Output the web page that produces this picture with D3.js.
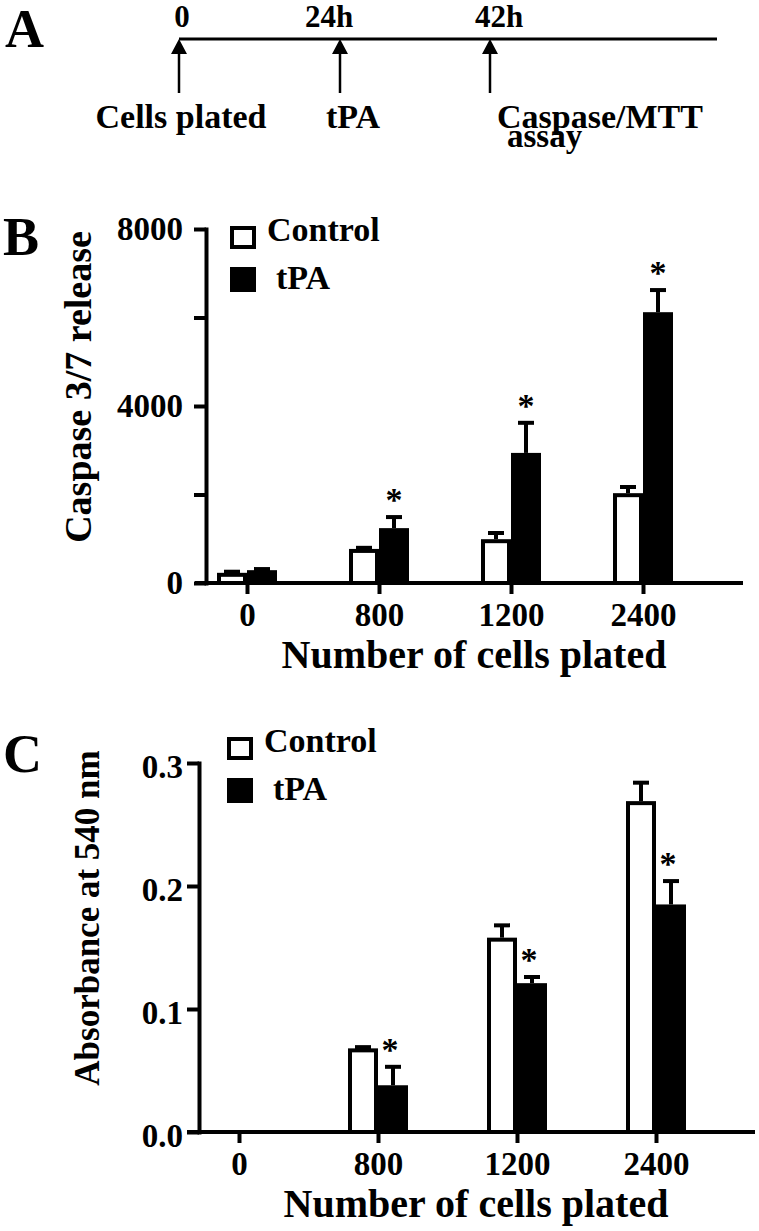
<!DOCTYPE html>
<html>
<head>
<meta charset="utf-8">
<script src="https://cdn.jsdelivr.net/npm/d3@7"></script>
<style>
  body { margin: 0; background: #fff; }
  svg { display: block; background: #fff; }
  text { font-family: "Liberation Serif", "Times New Roman", serif; font-weight: bold; fill: #000; }
</style>
</head>
<body>
<svg></svg>
<script>
// ---------- data ----------
const timelineEvents = ['0', '24h', '42h'];
const timelineLabels = ['Cells plated', 'tPA', 'Caspase/MTT'];

const cellGroups = ['0', '800', '1200', '2400'];
const seriesNames = ['Control', 'tPA'];

// panel B: caspase 3/7 release
const caspaseTicks = [0, 2000, 4000, 6000, 8000];
const caspaseControl = [230, 770, 990, 2030];
const caspaseControlErr = [25, 25, 140, 140];
const caspaseTpa = [290, 1240, 2940, 6120];
const caspaseTpaErr = [25, 250, 680, 500];
const caspaseSig = [false, true, true, true];

// panel C: absorbance at 540 nm (MTT)
const absTicks = [0, 0.1, 0.2, 0.3];
const absControl = [0, 0.068, 0.158, 0.269];
const absControlErr = [0, 0.001, 0.010, 0.015];
const absTpa = [0, 0.038, 0.121, 0.185];
const absTpaErr = [0, 0.015, 0.005, 0.019];
const absSig = [false, true, true, true];

const size = {w: 759, h: 1231};
const svg = d3.select('svg')
    .attr('width', size.w)
    .attr('height', size.h);

// ---------- A: timeline ----------
const gA = svg.append('g').classed('panel-a', true);
const tx = d3.scaleOrdinal().domain(timelineEvents).range([179, 340, 490]);
const lineY = 39;

gA.append('text').attr('x', 5).attr('y', 47).style('font-size', '54px').text('A');

gA.append('line')
    .attr('x1', tx('0')).attr('x2', 717)
    .attr('y1', lineY).attr('y2', lineY)
    .attr('stroke', '#000').attr('stroke-width', 3);

const arrows = gA.selectAll('g.arrow')
    .data(timelineEvents)
    .join('g').classed('arrow', true)
    .attr('transform', d => `translate(${tx(d)},0)`);

arrows.append('line')
    .attr('x1', 0).attr('x2', 0)
    .attr('y1', lineY + 12).attr('y2', 93)
    .attr('stroke', '#000').attr('stroke-width', 2.5);

arrows.append('path')
    .attr('d', `M0,${lineY} L-8,${lineY + 15} L8,${lineY + 15} Z`)
    .attr('fill', '#000');

// hour labels sit a little off the arrows
const topDx = [3, -11, 9];
arrows.append('text')
    .attr('x', (d, i) => topDx[i])
    .attr('y', 27)
    .attr('text-anchor', 'middle')
    .style('font-size', '31px')
    .text(d => d);

const botAnchor = ['middle', 'start', 'start'];
const botDx = [2, -14, 7];
arrows.append('text')
    .attr('x', (d, i) => botDx[i])
    .attr('y', 128)
    .attr('text-anchor', (d, i) => botAnchor[i])
    .style('font-size', '34px')
    .text((d, i) => timelineLabels[i]);

gA.append('text')
    .attr('x', 507).attr('y', 147)
    .style('font-size', '33px')
    .text('assay');

// ---------- bar panels ----------
function drawPanel(p) {
    const g = svg.append('g');

    const y = d3.scaleLinear().domain([0, p.yMax]).range([p.bottom, p.top]);
    const x = d3.scalePoint().domain(cellGroups).range(p.xRange);
    const bw = 30, sw = 4;

    g.append('text')
        .attr('x', 3).attr('y', p.letterY)
        .style('font-size', '54px')
        .text(p.letter);

    // y axis
    const yAxis = d3.axisLeft(y)
        .tickValues(p.ticks)
        .tickSize(12)
        .tickSizeOuter(0)
        .tickPadding(p.tickPad)
        .tickFormat(d => p.labelTicks.includes(d) ? p.fmt(d) : '');

    const yg = g.append('g')
        .attr('transform', `translate(${p.yAxisX},0)`)
        .call(yAxis);
    yg.selectAll('path.domain').attr('stroke-width', sw).attr('stroke-linecap', 'square');
    yg.selectAll('.tick line').attr('stroke-width', sw);
    yg.selectAll('.tick text')
        .attr('dy', p.labelDy)
        .style('font-size', '33px')
        .style('font-family', null);

    g.append('text')
        .attr('transform', `translate(${p.ylabelX},${p.ylabelY}) rotate(-90)`)
        .attr('text-anchor', 'middle')
        .style('font-size', p.ylabelSize + 'px')
        .text(p.ylabel);

    // bars
    const bars = g.selectAll('g.group')
        .data(cellGroups)
        .join('g').classed('group', true);

    bars.filter((d, i) => p.control[i] > 0)
        .append('rect')
        .attr('x', d => x(d) - bw + sw / 2)
        .attr('y', (d) => y(p.control[cellGroups.indexOf(d)]) + sw / 2)
        .attr('width', bw - sw)
        .attr('height', d => p.bottom - y(p.control[cellGroups.indexOf(d)]) - sw / 2)
        .attr('fill', '#fff')
        .attr('stroke', '#000')
        .attr('stroke-width', sw);

    bars.filter((d, i) => p.tpa[i] > 0)
        .append('rect')
        .attr('x', d => x(d))
        .attr('y', d => y(p.tpa[cellGroups.indexOf(d)]))
        .attr('width', bw)
        .attr('height', d => p.bottom - y(p.tpa[cellGroups.indexOf(d)]))
        .attr('fill', '#000');

    // error bars, upper half only
    function errorBar(cx, v, e) {
        if (v <= 0 || e <= 0) return;
        g.append('line')
            .attr('x1', cx).attr('x2', cx)
            .attr('y1', y(v)).attr('y2', y(v + e))
            .attr('stroke', '#000').attr('stroke-width', sw);
        g.append('line')
            .attr('x1', cx - 8).attr('x2', cx + 8)
            .attr('y1', y(v + e)).attr('y2', y(v + e))
            .attr('stroke', '#000').attr('stroke-width', sw);
    }
    cellGroups.forEach((d, i) => {
        errorBar(x(d) - bw / 2, p.control[i], p.controlErr[i]);
        errorBar(x(d) + bw / 2, p.tpa[i], p.tpaErr[i]);
    });

    // significance stars
    g.selectAll('text.star')
        .data(cellGroups.filter((d, i) => p.sig[i]))
        .join('text').classed('star', true)
        .attr('x', d => x(d) + bw / 2 + p.starDx)
        .attr('y', d => {
            const i = cellGroups.indexOf(d);
            return y(p.tpa[i] + p.tpaErr[i]) - 22 + 16;
        })
        .attr('text-anchor', 'middle')
        .style('font-size', '34px')
        .text('*');

    // x axis: long baseline plus ticks at the groups
    g.append('line')
        .attr('x1', p.xStart).attr('x2', p.xEnd)
        .attr('y1', p.bottom).attr('y2', p.bottom)
        .attr('stroke', '#000').attr('stroke-width', sw);

    const xg = g.append('g')
        .attr('transform', `translate(0,${p.bottom})`)
        .call(d3.axisBottom(x).tickSize(11).tickSizeOuter(0));
    xg.select('path.domain').remove();
    xg.selectAll('.tick line').attr('stroke-width', sw);
    xg.selectAll('.tick text')
        .attr('y', 43).attr('dy', 0)
        .style('font-size', '33px')
        .style('font-family', null);

    g.append('text')
        .attr('x', p.xlabelX).attr('y', p.bottom + 85)
        .attr('text-anchor', 'middle')
        .style('font-size', '40px')
        .text('Number of cells plated');

    // legend
    const leg = g.selectAll('g.legend')
        .data(seriesNames)
        .join('g').classed('legend', true);
    leg.append('rect')
        .attr('x', (d, i) => p.legendX + (i === 0 ? sw / 2 : 0))
        .attr('y', (d, i) => p.legendY + i * 41 + (i === 0 ? sw / 2 : 0))
        .attr('width', (d, i) => i === 0 ? 26 - sw : 26)
        .attr('height', (d, i) => i === 0 ? 23 - sw : 25)
        .attr('fill', (d, i) => i === 0 ? '#fff' : '#000')
        .attr('stroke', (d, i) => i === 0 ? '#000' : 'none')
        .attr('stroke-width', sw);
    leg.append('text')
        .attr('x', (d, i) => p.legendX + 37 + (i === 0 ? 0 : 9))
        .attr('y', (d, i) => p.legendY + 15 + i * 48)
        .style('font-size', '34px')
        .text(d => d);
}

drawPanel({
    letter: 'B', letterY: 255,
    top: 229, bottom: 583, yMax: 8000,
    yAxisX: 206, xStart: 195, xEnd: 743, xRange: [247, 643],
    ticks: caspaseTicks, labelTicks: [0, 4000, 8000], fmt: d3.format('d'),
    tickPad: 11, labelDy: '0.32em',
    control: caspaseControl, controlErr: caspaseControlErr,
    tpa: caspaseTpa, tpaErr: caspaseTpaErr, sig: caspaseSig, starDx: 0,
    ylabel: 'Caspase 3/7 release', ylabelX: 91, ylabelY: 387, ylabelSize: 38,
    xlabelX: 474,
    legendX: 230, legendY: 226
});

drawPanel({
    letter: 'C', letterY: 772,
    top: 763, bottom: 1132, yMax: 0.3,
    yAxisX: 199, xStart: 187, xEnd: 755, xRange: [239, 656],
    ticks: absTicks, labelTicks: absTicks, fmt: d3.format('.1f'),
    tickPad: 4, labelDy: '0.45em',
    control: absControl, controlErr: absControlErr,
    tpa: absTpa, tpaErr: absTpaErr, sig: absSig, starDx: -3,
    ylabel: 'Absorbance at 540 nm', ylabelX: 99, ylabelY: 918, ylabelSize: 35,
    xlabelX: 476,
    legendX: 227, legendY: 737
});
</script>
</body>
</html>
